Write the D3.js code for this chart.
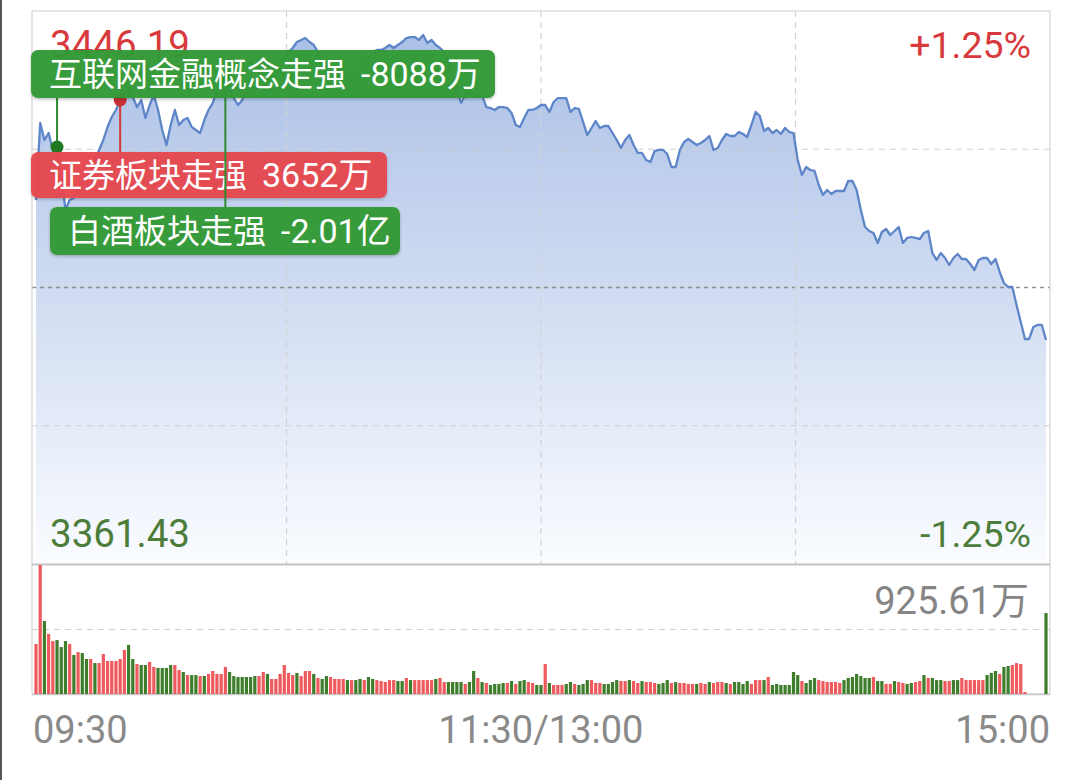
<!DOCTYPE html>
<html><head><meta charset="utf-8">
<script src="https://cdn.jsdelivr.net/npm/d3@7/dist/d3.min.js"></script>
<style>html,body{margin:0;padding:0;background:#fff;}svg{display:block;}</style>
</head><body>
<svg id="c" width="1080" height="780"></svg>
<script>
// ---------- data ----------
const timeLabels = ["09:30", "11:30/13:00", "15:00"];
const priceTop = 3446.19, priceBottom = 3361.43;
const pctTop = "+1.25%", pctBottom = "-1.25%";
const volMaxLabel = "925.61万";
const volMax = 925.61;

// minute closes, 241 points (09:30 .. 15:00)
const prices = [
3417.22,3429.02,3426.42,3427.49,3424.89,3425.34,3421.05,3415.69,3417.22,3417.53,
3418.75,3420.29,3421.05,3421.82,3423.35,3424.89,3426.42,3428.41,3429.94,3431.02,
3432.55,3433.78,3434.08,3433.01,3431.47,3432.55,3429.79,3431.78,3433.31,3431.02,
3427.95,3425.65,3428.72,3431.02,3428.72,3429.48,3429.79,3428.41,3427.95,3427.49,
3429.48,3431.02,3432.09,3434.08,3434.85,3435.92,3434.39,3432.85,3431.78,3432.55,
3434.08,3434.85,3435.61,3435.92,3436.84,3436.38,3437.45,3437.91,3438.68,3438.99,
3439.91,3440.52,3441.44,3441.75,3442.05,3441.44,3440.98,3439.91,3437.91,3436.84,
3435.92,3435.61,3436.38,3435.92,3436.84,3437.15,3436.38,3437.45,3438.68,3438.99,
3439.91,3440.21,3440.21,3440.52,3440.98,3440.52,3440.98,3441.44,3442.05,3442.20,
3442.20,3441.75,3442.51,3441.28,3441.75,3440.98,3440.52,3439.91,3438.68,3436.38,
3434.08,3432.09,3433.31,3433.62,3433.62,3433.31,3433.31,3431.47,3431.32,3431.02,
3431.47,3431.47,3431.32,3430.56,3428.72,3428.41,3429.79,3431.02,3431.02,3431.32,
3431.78,3431.78,3430.71,3432.24,3432.85,3432.85,3432.85,3430.71,3431.32,3431.17,
3429.18,3427.18,3428.26,3429.33,3428.26,3428.56,3428.56,3427.49,3426.42,3425.19,
3426.42,3427.18,3425.65,3424.43,3424.43,3423.35,3423.05,3424.73,3424.89,3424.89,
3424.27,3422.28,3422.28,3424.89,3426.11,3426.57,3426.11,3425.65,3425.96,3426.42,
3427.03,3424.89,3425.19,3426.42,3427.34,3427.03,3427.03,3427.64,3427.34,3426.88,
3428.72,3430.71,3430.10,3427.80,3428.26,3427.49,3427.95,3427.34,3428.26,3427.64,
3427.49,3423.35,3421.05,3422.28,3421.82,3421.67,3419.52,3417.99,3418.75,3418.14,
3418.60,3418.60,3418.60,3420.13,3420.13,3418.75,3415.69,3413.08,3412.47,3412.16,
3410.63,3412.32,3412.78,3411.86,3412.47,3413.08,3410.63,3411.40,3411.55,3411.40,
3411.24,3412.16,3412.47,3409.10,3408.03,3409.10,3408.33,3407.26,3408.33,3408.94,
3408.18,3408.18,3407.41,3406.49,3408.03,3408.33,3408.33,3407.41,3408.18,3406.19,
3404.50,3403.89,3403.89,3401.13,3398.52,3395.92,3395.92,3397.76,3398.07,3398.07,
3395.76];

// minute volumes (万), 241 bars
const volumes = [
359,925.61,524,431,380,387,337,380,359,280,
301,294,251,251,222,222,287,237,237,237,
251,316,352,251,215,208,208,230,194,187,
187,187,208,208,172,158,136,136,136,129,
129,144,165,144,144,194,158,129,122,122,
122,122,129,129,158,144,108,108,144,208,
151,136,151,129,165,165,144,115,108,129,
122,108,108,108,100,100,100,108,100,122,
108,100,93,86,100,100,93,93,115,100,
100,100,100,100,100,108,115,86,86,86,
86,86,72,86,165,115,86,79,65,72,
72,79,79,93,72,93,100,86,79,65,
65,215,
79,65,65,65,72,86,72,65,72,100,
100,79,79,72,72,86,100,93,93,100,
93,79,93,86,86,79,72,79,100,79,
86,79,79,72,72,72,79,72,86,79,
86,86,79,72,86,86,72,93,72,100,
100,100,122,65,72,65,65,65,158,136,
93,79,100,115,100,93,86,86,86,79,
100,115,122,144,129,115,115,122,93,93,
72,72,93,86,79,72,79,86,93,136,
115,115,100,100,93,93,100,100,115,100,
100,100,100,100,136,151,165,144,194,201,
208,222,215,
14,0,0,0,0,581];
// r = up minute (red), g = down minute (green)
const volDirList = [
"r","r","g","r","r","g","g","g","r","g",
"r","g","g","r","g","r","r","r","r","r",
"r","r","g","g","r","g","g","r","r","g",
"g","g","g","r","r","g","r","g","g","r",
"g","r","r","r","r","r","g","g","g","g",
"g","g","g","r","r","g","r","r","r","r",
"r","r","g","r","r","r","g","r","g","g",
"r","r","r","r","g","r","g","g","r","g",
"g","r","r","r","r","r","g","g","r","g",
"r","r","r","r","r","g","r","r","g","g",
"g","g","r","g","g","r","g","r","g","g",
"g","g","r","g","r","g","g","r","r","g",
"g","r",
"g","r","r","r","g","g","r","g","g","g",
"r","r","r","g","g","g","g","r","r","g",
"r","r","g","r","r","r","g","g","g","r",
"g","r","r","r","r","g","r","r","g","r",
"r","r","g","r","g","g","g","g","r","r",
"r","g","r","g","g","g","g","g","g","g",
"r","g","g","g","r","r","r","r","r","r",
"g","g","g","g","g","g","g","r","g","g",
"r","r","g","r","r","g","g","r","r","g",
"r","g","g","g","r","r","g","g","r","r",
"r","r","r","r","g","g","g","r","g","g",
"r","r","r",
"r","g","g","g","g","g"];

const annoTitles = ["互联网金融概念走强", "证券板块走强", "白酒板块走强"];
const annoFlows  = ["-8088万", "3652万", "-2.01亿"];
const annoIndex  = [5, 20, 45];
const annoKind   = ["down", "up", "down"];

// ---------- layout ----------
const svg = d3.select("#c");
const L = 32, R = 1050, T = 11, B = 564, VB = 694, VT = 565;
const x = d3.scaleLinear().domain([0, 240]).range([36, 1046]);
const y = d3.scaleLinear().domain([priceBottom, priceTop]).range([B, T]);
const yv = d3.scaleLinear().domain([0, volMax]).range([VB, VT]);
const RED = "#d8393d", GREEN = "#4c7d3a";
const numFont = "Roboto, 'Noto Sans CJK SC', sans-serif";

svg.append("rect").attr("width",1080).attr("height",780).attr("fill","#fff");
svg.append("rect").attr("x",0).attr("y",0).attr("width",2).attr("height",780).attr("fill","#555");

const defs = svg.append("defs");
const grad = defs.append("linearGradient").attr("id","ag")
  .attr("gradientUnits","userSpaceOnUse").attr("x1",0).attr("x2",0).attr("y1",T).attr("y2",B);
grad.append("stop").attr("offset","0").attr("stop-color","#a8bee6");
grad.append("stop").attr("offset","0.5").attr("stop-color","#cfdbf1");
grad.append("stop").attr("offset","1").attr("stop-color","#fafcff");
const sh = defs.append("filter").attr("id","sh").attr("x","-5%").attr("y","-20%").attr("width","110%").attr("height","150%");
sh.append("feDropShadow").attr("dx",0).attr("dy",1.5).attr("stdDeviation",1.5).attr("flood-color","#000").attr("flood-opacity",0.25);

// area + line
const idx = prices.map((p,i)=>i);
svg.append("path").datum(idx)
  .attr("d", d3.area().x(i=>x(i)).y0(B).y1(i=>y(prices[i])))
  .attr("fill","url(#ag)");

// grid
const gridG = svg.append("g");
[0.25, 0.75].forEach(f=>{
  const yy = y(priceBottom + (priceTop-priceBottom)*f);
  gridG.append("line").attr("x1",L).attr("x2",R).attr("y1",yy).attr("y2",yy)
    .attr("stroke","#cfcfcf").attr("stroke-width",1.2).attr("stroke-dasharray","6,5");
});
const midY = y((priceTop+priceBottom)/2);
gridG.append("line").attr("x1",L).attr("x2",R).attr("y1",midY).attr("y2",midY)
  .attr("stroke","#8f8f8f").attr("stroke-width",1.4).attr("stroke-dasharray","4,4");
[0.25,0.5,0.75].forEach(f=>{
  const xx = L + (R-L)*f;
  gridG.append("line").attr("x1",xx).attr("x2",xx).attr("y1",T).attr("y2",B)
    .attr("stroke","#d2d2d2").attr("stroke-width",1.2).attr("stroke-dasharray","6,5");
});
// volume grid
const vMid = yv(volMax/2);
gridG.append("line").attr("x1",L).attr("x2",R).attr("y1",vMid).attr("y2",vMid)
  .attr("stroke","#d0d0d0").attr("stroke-width",1.2).attr("stroke-dasharray","6,5");

svg.append("path").datum(idx)
  .attr("d", d3.line().x(i=>x(i)).y(i=>y(prices[i])))
  .attr("fill","none").attr("stroke","#5d85c8").attr("stroke-width",2.3).attr("stroke-linejoin","round");

// frames
svg.append("rect").attr("x",L).attr("y",T).attr("width",R-L).attr("height",VB-T)
  .attr("fill","none").attr("stroke","#d4d4d4").attr("stroke-width",1.2);
svg.append("line").attr("x1",L).attr("x2",R).attr("y1",B+0.5).attr("y2",B+0.5).attr("stroke","#c4c4c4").attr("stroke-width",2);
svg.append("line").attr("x1",L).attr("x2",R).attr("y1",VB+0.5).attr("y2",VB+0.5).attr("stroke","#c8c8c8").attr("stroke-width",1.5);

// volume bars
svg.append("g").selectAll("rect").data(volumes).join("rect")
  .attr("x",(d,i)=>x(i)-1.6).attr("width",3.2)
  .attr("y",d=>yv(d)).attr("height",d=>VB-yv(d))
  .attr("fill",(d,i)=> volDirList[i]==="r" ? "#ee5a5d" : "#3e7d2b");

// corner labels
function txt(t,xx,yy,anchor,color,size){
  return svg.append("text").attr("x",xx).attr("y",yy).attr("text-anchor",anchor)
    .attr("fill",color).attr("font-family",numFont).attr("font-size",size).text(t);
}
txt(d3.format(".2f")(priceTop), 50, 58, "start", RED, 38.5);
txt(pctTop, 1031, 58, "end", RED, 37.5);
txt(d3.format(".2f")(priceBottom), 50, 547, "start", GREEN, 38.5);
txt(pctBottom, 1031, 547, "end", GREEN, 37.5);
txt(volMaxLabel, 1029, 614, "end", "#858585", 38);
txt(timeLabels[0], 33, 743, "start", "#8a8a8a", 38);
txt(timeLabels[1], (L+R)/2, 743, "middle", "#8a8a8a", 38);
txt(timeLabels[2], 1050, 743, "end", "#8a8a8a", 38);

// annotations
const boxes = [ {x:31,y:50,w:464,h:48}, {x:31,y:152,w:356,h:46}, {x:50,y:207,w:350,h:48} ];
const fillOf = k => k==="up" ? "#e6494e" : "#349a36";
const lineOf = k => k==="up" ? "#d23a3a" : "#2e8a2e";
const dotOf  = k => k==="up" ? "#c93232" : "#217a21";

function leader(i){
  const px = x(annoIndex[i]), py = y(prices[annoIndex[i]]);
  const b = boxes[i];
  const ey = py < b.y ? b.y : b.y + b.h;
  svg.append("line").attr("x1",px).attr("x2",px).attr("y1",py).attr("y2",ey)
    .attr("stroke",lineOf(annoKind[i])).attr("stroke-width",2);
  svg.append("circle").attr("cx",px).attr("cy",py).attr("r",6.5)
    .attr("fill",dotOf(annoKind[i]));
}
function box(i){
  const b = boxes[i];
  const g = svg.append("g");
  g.append("rect").attr("x",b.x).attr("y",b.y).attr("width",b.w).attr("height",b.h)
    .attr("rx",7).attr("fill",fillOf(annoKind[i])).attr("fill-opacity",0.96).attr("filter","url(#sh)");
  const t = g.append("text").attr("x",b.x+18).attr("y",b.y+b.h/2+12)
    .attr("fill","#fff").attr("font-family",numFont).attr("font-size",33);
  t.append("tspan").text(annoTitles[i]);
  t.append("tspan").attr("dx",15).attr("font-size",34).text(annoFlows[i]);
}
leader(0);
leader(1);
box(1);
leader(2);
box(2);
box(0);
</script>
</body></html>
